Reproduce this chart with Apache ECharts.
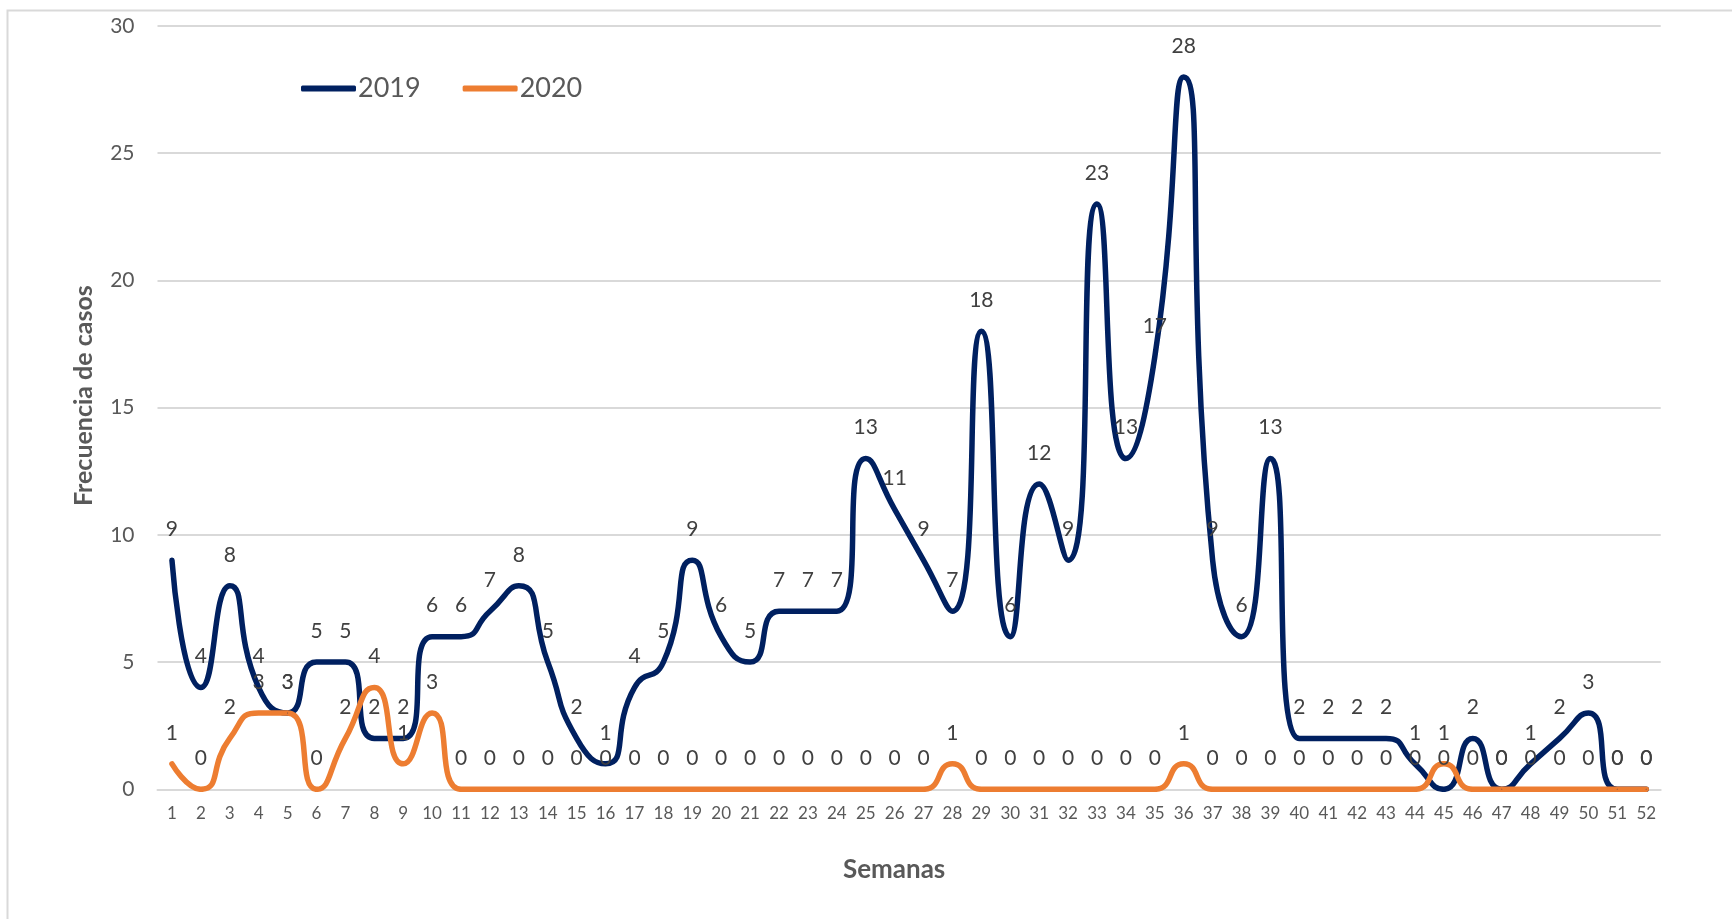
<!DOCTYPE html>
<html>
<head>
<meta charset="utf-8">
<script src="https://cdn.jsdelivr.net/npm/echarts@6/dist/echarts.min.js"></script>
<style>
html,body{margin:0;padding:0;background:#fff;}
#chart{width:1732px;height:919px;}
</style>
</head>
<body>
<div id="chart"></div>
<script>
const weeks = ['1','2','3','4','5','6','7','8','9','10','11','12','13','14','15','16','17','18','19','20','21','22','23','24','25','26','27','28','29','30','31','32','33','34','35','36','37','38','39','40','41','42','43','44','45','46','47','48','49','50','51','52'];
const cases2019 = [9,4,8,4,3,5,5,2,2,6,6,7,8,5,2,1,4,5,9,6,5,7,7,7,13,11,9,7,18,6,12,9,23,13,17,28,9,6,13,2,2,2,2,1,0,2,0,1,2,3,0,0];
const cases2020 = [1,0,2,3,3,0,2,4,1,3,0,0,0,0,0,0,0,0,0,0,0,0,0,0,0,0,0,1,0,0,0,0,0,0,0,1,0,0,0,0,0,0,0,0,1,0,0,0,0,0,0,0];
const seriesNames = ['2019','2020'];
const yTicks = {min:0, max:30, interval:5};

const FONT = 'Lato, "Noto Sans", sans-serif';
const chart = echarts.init(document.getElementById('chart'), null, {renderer:'canvas'});

function lineSeries(name, data, color){
  return {
    name: name,
    type: 'line',
    data: data,
    smooth: 0.6,
    symbol: 'circle',
    symbolSize: 1,
    showSymbol: true,
    showAllSymbol: true,
    lineStyle: {color: color, width: 5.5, cap: 'round', join: 'round'},
    itemStyle: {color: color},
    label: {
      show: true,
      position: 'top',
      distance: 20,
      color: '#404040',
      fontSize: 21,
      lineHeight: 21,
      fontFamily: FONT
    },
    labelLayout: {hideOverlap: false},
    emphasis: {disabled: true}
  };
}

chart.setOption({
  animation: false,
  backgroundColor: '#ffffff',
  graphic: [{
    type: 'rect',
    shape: {x: 7.5, y: 10.5, width: 1760, height: 950},
    style: {fill: 'none', stroke: '#d9d9d9', lineWidth: 2},
    silent: true
  }],
  grid: {left: 157.5, right: 71.3, top: 26, bottom: 129.7},
  legend: {
    data: seriesNames,
    left: 296,
    top: 70,
    itemWidth: 55,
    itemHeight: 6,
    itemGap: 42,
    icon: 'roundRect',
    textStyle: {fontSize: 27, color: '#595959', fontFamily: FONT, padding: [0,0,0,-3]}
  },
  xAxis: {
    type: 'category',
    data: weeks,
    boundaryGap: true,
    name: 'Semanas',
    nameLocation: 'middle',
    nameGap: 67,
    nameTextStyle: {fontSize: 26, fontWeight: 'bold', color: '#595959', fontFamily: FONT, padding: [0,30,0,0]},
    axisLine: {show: true, lineStyle: {color: '#d9d9d9', width: 2}},
    axisTick: {show: false},
    axisLabel: {color: '#595959', fontSize: 17, margin: 16, fontFamily: FONT, interval: 0}
  },
  yAxis: {
    type: 'value',
    min: yTicks.min,
    max: yTicks.max,
    interval: yTicks.interval,
    name: 'Frecuencia de casos',
    nameLocation: 'middle',
    nameGap: 61,
    nameTextStyle: {fontSize: 25, fontWeight: 'bold', color: '#595959', fontFamily: FONT, padding: [0,0,0,24]},
    axisLine: {show: false},
    axisTick: {show: false},
    axisLabel: {color: '#595959', fontSize: 21, margin: 23, fontFamily: FONT},
    splitLine: {lineStyle: {color: '#d9d9d9', width: 2}}
  },
  series: [
    lineSeries(seriesNames[0], cases2019, '#002060'),
    lineSeries(seriesNames[1], cases2020, '#ED7D31')
  ]
});
</script>
</body>
</html>
